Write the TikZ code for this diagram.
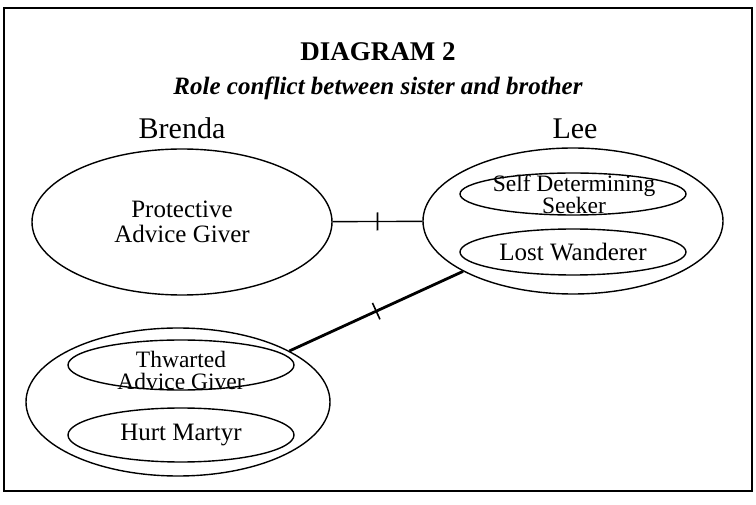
\documentclass[tikz,border=0pt]{standalone}
\usepackage{fontspec}
\setmainfont{Liberation Serif}
\usetikzlibrary{shapes.geometric,decorations.markings}
\begin{document}
\begin{tikzpicture}[x=1pt,y=-1pt,
  oval/.style={draw, ellipse, line width=1.4pt, inner sep=0pt},
  tickline/.style={postaction=decorate, decoration={markings, mark=at position 0.5 with {\draw[line width=1.6pt] (0,-9pt) -- (0,9pt);}}},
  txt/.style={font=\fontsize{25}{25}\selectfont, align=center},
  tight/.style={font=\fontsize{23.5}{22}\selectfont, align=center, inner sep=0pt},
  who/.style={font=\fontsize{30}{32}\selectfont, anchor=base}
]
\useasboundingbox (0,0) rectangle (756,505);
\draw[line width=1.5pt] (4,8) rectangle (752,491);
\node[font=\fontsize{27}{28}\selectfont\bfseries, anchor=base] (title) at (378,61) {DIAGRAM 2};
\node[font=\fontsize{25}{26}\selectfont\bfseries\itshape, anchor=base] (sub) at (378,95) {Role conflict between sister and brother};
\node[who] (brenda) at (182,139) {Brenda};
\node[who] (lee) at (575,139) {Lee};
% Brenda
\node[oval, minimum width=300, minimum height=146, txt] (B) at (182,222) {Protective\\Advice Giver};
% Lee
\node[oval, minimum width=300, minimum height=146] (L) at (573,221) {};
\node[oval, minimum width=226, minimum height=42] (sds) at (573,194) {};
\node[tight] (sdstxt) at (574,194) {Self Determining\\Seeker};
\node[oval, minimum width=226, minimum height=46, txt] (lw) at (573,252) {Lost Wanderer};
% Brenda (bottom)
\node[oval, minimum width=304, minimum height=148] (T) at (178,402) {};
\node[oval, minimum width=226, minimum height=50] (thw) at (181,365) {};
\node[tight] (thwtxt) at (181,370) {Thwarted\\Advice Giver};
\node[oval, minimum width=226, minimum height=54, txt] (hm) at (181,435) {Hurt Martyr};
% connectors
\draw[line width=1.4pt, tickline] (B) -- (L);
\draw[line width=2.8pt, tickline] (T) -- (L);
\end{tikzpicture}
\end{document}
